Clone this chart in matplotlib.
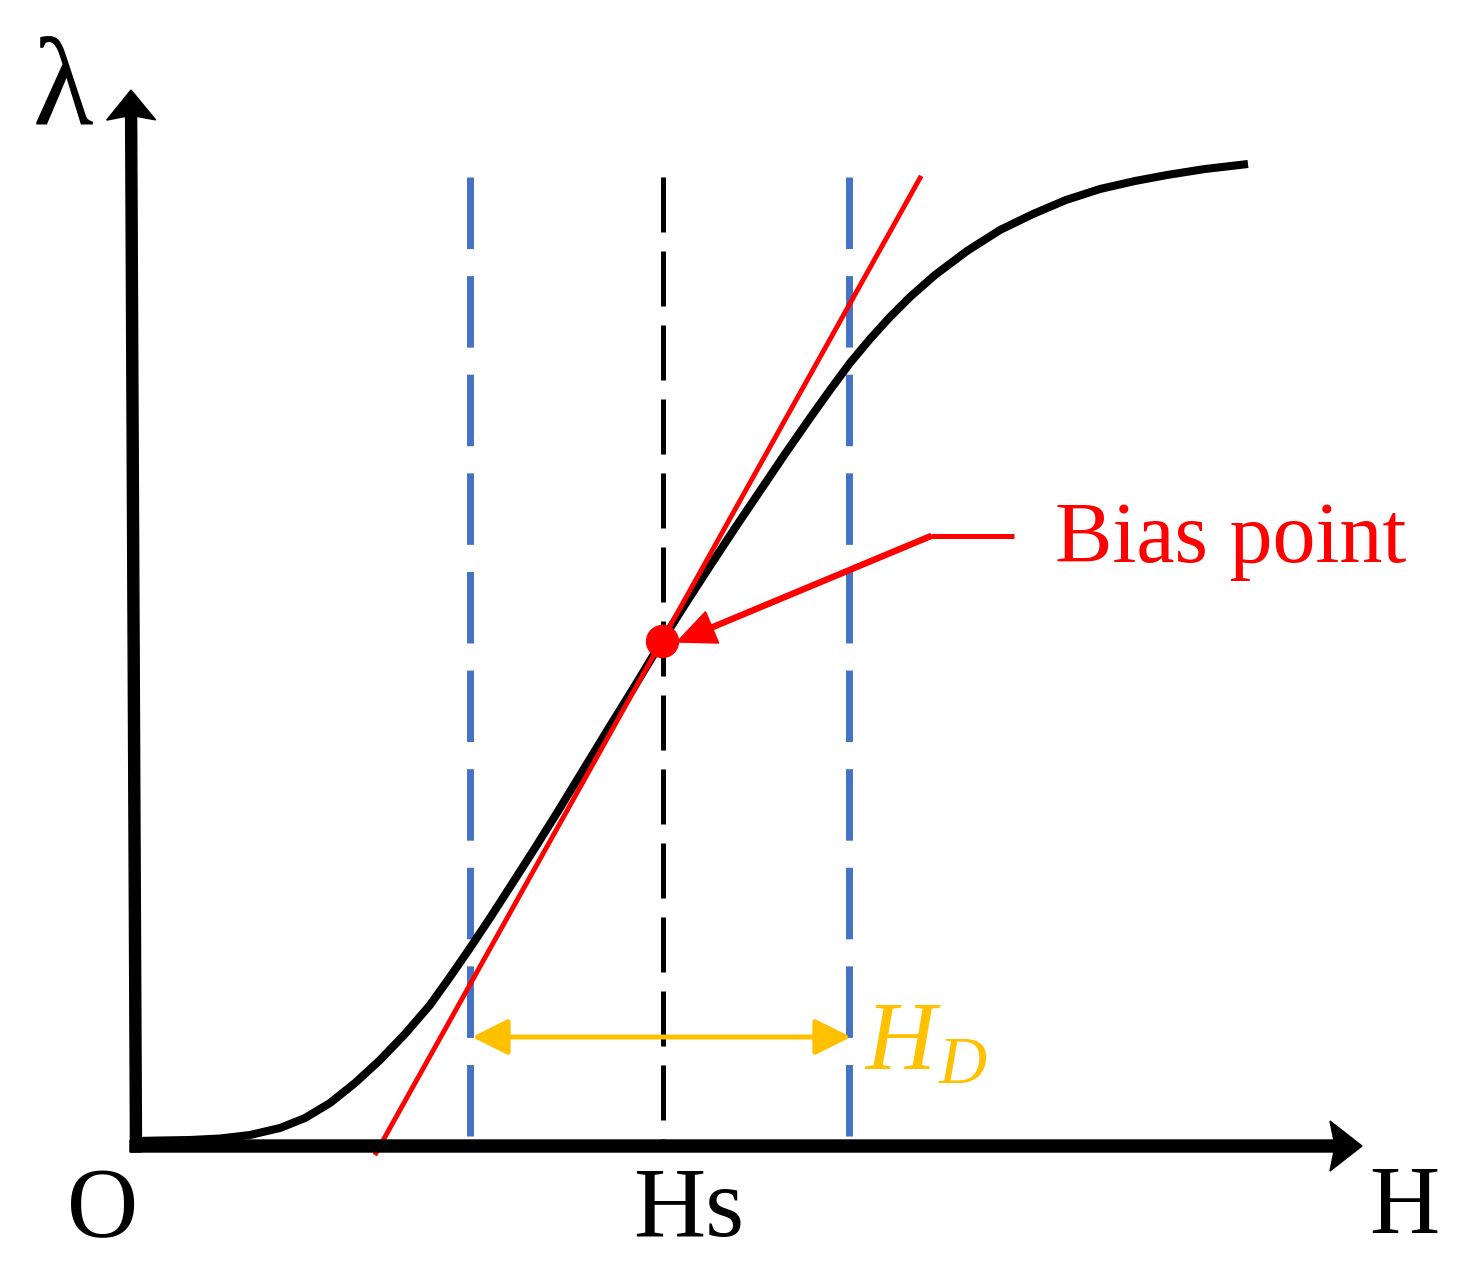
import matplotlib
matplotlib.use("Agg")
import matplotlib.pyplot as plt
from matplotlib.patches import FancyArrowPatch

# ---------------- data (schematic units, origin at axis corner) ----------------
curve_H = [3, 27, 57, 87, 117, 147, 172, 197, 222, 247,
           272, 297, 317, 337, 357, 377, 402, 427, 452, 477,
           503, 529, 553, 577, 602, 627, 652, 677, 697, 717,
           737, 757, 777, 802, 834, 867, 900, 933, 967, 1002,
           1034, 1072, 1115]
curve_lam = [6, 6.5, 7, 8.5, 12, 19, 29, 44, 64, 87,
             113, 142, 170, 199, 229, 260, 299, 339, 380, 421,
             463, 506, 544, 581, 619, 656, 693, 729, 757, 784,
             808, 830, 850, 872, 896, 917, 933, 947, 958, 966,
             972, 978, 983]

tangent_H = [243, 787]
tangent_lam = [-6, 969]

bias_H = 529
bias_lam = 506

blue_H = [337, 716]
hs_H = 530
guide_top = 970

hd_lam = 110
hd_left, hd_right = 339, 718

leader_H = [881, 798]
leader_lam = [611, 611]
leader_tip = (544, 505)

labels = {"lam": "λ", "O": "O", "Hs": "Hs", "H": "H",
          "bias": "Bias point", "HD_main": "H", "HD_sub": "D"}

RED = "#FF0000"
BLUE = "#4472C4"
YEL = "#FFC000"

# ---------------- figure ----------------
fig = plt.figure(figsize=(14.79, 12.86), dpi=100)
ax = fig.add_axes([0, 0, 1, 1])
ax.set_xlim(-133, 1346)
ax.set_ylim(-139, 1147)
ax.set_aspect("equal")
ax.axis("off")

# guide lines
for h in blue_H:
    ax.plot([h, h], [guide_top, 0], color=BLUE, lw=5, solid_capstyle="butt",
            dashes=(10.3, 3.9), dash_capstyle="butt", zorder=2)
ax.plot([hs_H, hs_H], [guide_top, 0], color="black", lw=3.6,
        dashes=(11, 3.8), dash_capstyle="butt", zorder=2)

# curve
ax.plot(curve_H, curve_lam, color="black", lw=5.8, solid_joinstyle="round",
        solid_capstyle="butt", zorder=3)

# tangent
ax.plot(tangent_H, tangent_lam, color=RED, lw=3.5, zorder=4)

# axes arrows
ax.arrow(-3, 1, 1232, 0, width=12, head_width=50, head_length=32,
         length_includes_head=True, fc="black", ec="black", overhang=0.12, zorder=5)
ax.arrow(3, -5, -5, 1062, width=11, head_width=49, head_length=30,
         length_includes_head=True, fc="black", ec="black", overhang=0.12, zorder=5)

# bias point
ax.plot([bias_H], [bias_lam], "o", color=RED, ms=23, zorder=6)
ax.plot(leader_H, leader_lam, color=RED, lw=3.6, solid_capstyle="butt", zorder=6)
ax.arrow(leader_H[1], leader_lam[1], leader_tip[0] - leader_H[1],
         leader_tip[1] - leader_lam[1], width=5, head_width=34, head_length=38,
         length_includes_head=True, fc=RED, ec=RED, zorder=6)

# H_D double arrow
arr = FancyArrowPatch((hd_left, hd_lam), (hd_right, hd_lam),
                      arrowstyle="<|-|>,head_length=1.1,head_width=0.55",
                      mutation_scale=20, color=YEL, lw=3.6,
                      shrinkA=0, shrinkB=0, zorder=6)
ax.add_patch(arr)

serif = ["Liberation Serif", "DejaVu Serif"]
ax.text(-70, 1053, labels["lam"], fontsize=90, family=serif, ha="center", va="center")
ax.text(-30, -65, labels["O"], fontsize=71, family=serif, ha="center", va="center")
ax.text(556, -65, labels["Hs"], fontsize=72, family=serif, ha="center", va="center")
ax.text(1271, -63, labels["H"], fontsize=70, family=serif, ha="center", va="center")
ax.text(922, 585, labels["bias"], fontsize=62, family=serif, color=RED,
        ha="left", va="baseline")
ax.text(732, 78, labels["HD_main"], fontsize=70, family=serif, style="italic",
        color=YEL, ha="left", va="baseline")
ax.text(806, 64, labels["HD_sub"], fontsize=48, family=serif, style="italic",
        color=YEL, ha="left", va="baseline")

fig.savefig("out.png", dpi=100)
